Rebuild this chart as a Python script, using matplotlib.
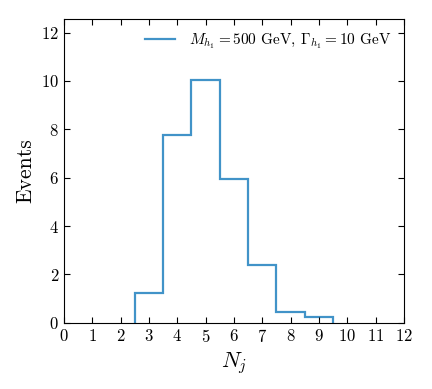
import matplotlib
matplotlib.use("Agg")
import matplotlib.pyplot as plt
import numpy as np

plt.rcParams['font.family'] = 'serif'
plt.rcParams['font.serif'] = ['cmr10']
plt.rcParams['mathtext.fontset'] = 'cm'
plt.rcParams['axes.formatter.use_mathtext'] = True

bin_edges = [2.5, 3.5, 4.5, 5.5, 6.5, 7.5, 8.5, 9.5]
events = [1.24, 7.77, 10.04, 5.95, 2.40, 0.45, 0.25]
label = r'$M_{h_1}=500$ GeV, $\Gamma_{h_1}=10$ GeV'

fig = plt.figure(figsize=(4.32, 3.89), dpi=100)
ax = fig.add_axes([0.148, 0.170, 0.787, 0.781])
ax.stairs(events, bin_edges, color='#4193c8', linewidth=1.6, label=label)

ax.set_xlim(0, 12)
ax.set_ylim(0, 12.56)
ax.set_xticks(range(0, 13))
ax.set_yticks(range(0, 13, 2))
ax.tick_params(direction='in', top=True, right=True, labelsize=12, length=4)
ax.set_xlabel(r'$N_j$', fontsize=16)
ax.set_ylabel('Events', fontsize=15.5)
ax.legend(loc='upper right', frameon=False, fontsize=11, handlelength=2.0,
          handletextpad=0.9, borderaxespad=0.4)
fig.savefig('out.png', dpi=100)
